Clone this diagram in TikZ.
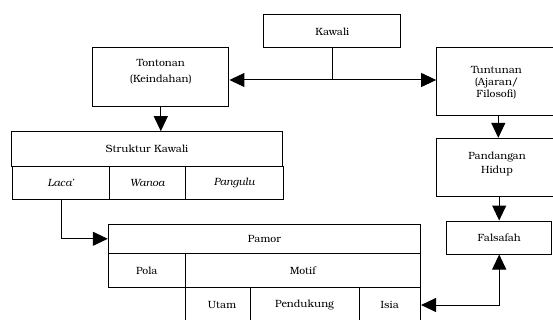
\documentclass[tikz,border=0pt]{standalone}
\usepackage{fontspec}
\setmainfont{TeX Gyre Bonum}
\usetikzlibrary{arrows.meta}
\tikzset{
  box/.style={draw, line width=1pt, inner sep=0pt, font=\fontsize{10.5}{13}\selectfont, align=center},
  lbl/.style={inner sep=0pt, font=\fontsize{10.5}{13}\selectfont, align=center},
  conn/.style={line width=1pt},
  arr/.style={conn, -{Triangle[length=15pt,width=14pt]}},
  darr/.style={conn, {Triangle[length=15pt,width=14pt]}-{Triangle[length=15pt,width=14pt]}}
}
\begin{document}
\begin{tikzpicture}[x=1pt,y=-1pt]
\useasboundingbox (0,0) rectangle (553,320);
\clip (0,0) rectangle (553,320);
% boxes
\node[box, minimum width=136.7pt, minimum height=32.7pt] (kawali) at (332.3,31.3) {Kawali};
\node[box, minimum width=136.3pt, minimum height=59pt] (tonton) at (160.8,77.2) {};
\node[lbl] at (160.8,63.3) {Tontonan};
\node[lbl] at (160.8,80) {(Keindahan)};
\node[box, minimum width=119.3pt, minimum height=68.3pt] (tuntun) at (496.3,81.8) {};
\node[lbl] at (496.5,70) {Tuntunan};
\node[lbl] at (496.5,82.7) {(Ajaran/};
\node[lbl] at (496.5,94.3) {Filosofi)};
\node[box, minimum width=119.3pt, minimum height=57.7pt] (pandang) at (496.3,167.2) {};
\node[lbl] at (497,156.7) {Pandangan};
\node[lbl] at (497,170.7) {Hidup};
\node[box, minimum width=105pt, minimum height=33pt] (falsafah) at (499.2,237.5) {Falsafah};
\node[box, minimum width=270.6pt, minimum height=35pt] (struktur) at (147,149.2) {Struktur Kawali};
\node[box, minimum width=96.6pt, minimum height=32.8pt] (laca) at (61,183.1) {\itshape Laca'};
\node[box, minimum width=76pt, minimum height=32.8pt] (wanoa) at (147.3,183.1) {\itshape Wanoa};
\node[box, minimum width=97.7pt, minimum height=32.8pt] (pangulu) at (234.2,183.1) {\itshape Pangulu};
\node[box, minimum width=312.2pt, minimum height=29pt] (pamor) at (264.4,238.8) {Pamor};
\node[box, minimum width=77pt, minimum height=34.4pt] (pola) at (146.8,270.5) {Pola};
\node[box, minimum width=234.7pt, minimum height=34.4pt] (motif) at (302.7,270.5) {Motif};
\node[box, minimum width=64.7pt, minimum height=34.6pt] (utam) at (217.7,305) {};
\node[lbl] at (222,305) {Utam};
\node[box, minimum width=109pt, minimum height=34.6pt] (pendukung) at (304.5,305) {Pendukung};
\node[box, minimum width=61.5pt, minimum height=34.6pt] (isia) at (389.8,305) {Isia};
% connectors
\coordinate (J) at (332,80);
\draw[conn] (kawali.south -| J) -- (J);
\draw[darr] (J -| tonton.east) -- (J -| tuntun.west);
\draw[arr] (tonton.south) -- (tonton.south |- struktur.north);
\draw[arr] ([xshift=2pt]tuntun.south) -- ([xshift=2pt]tuntun.south |- pandang.north);
\draw[arr] (pandang.south -| falsafah) -- (falsafah.north);
\draw[arr] (laca.south) |- (pamor.west);
\draw[darr] (falsafah.south) |- (isia.east);
\end{tikzpicture}
\end{document}
